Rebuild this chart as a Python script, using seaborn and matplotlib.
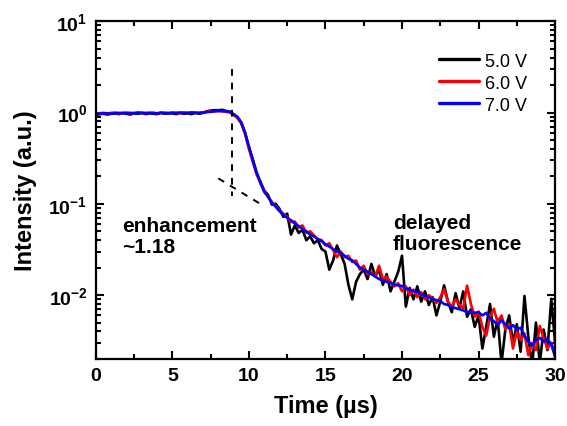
import numpy as np
import pandas as pd
import matplotlib
matplotlib.use("Agg")
import matplotlib.pyplot as plt
import seaborn as sns
from matplotlib.ticker import MultipleLocator, LogLocator, FuncFormatter

# ---- data ----
time_us = np.linspace(0, 30, 121)

series_labels = ["5.0 V", "6.0 V", "7.0 V"]
series_colors = ["#000000", "#ff0000", "#0000ff"]

intensity_5V = [
    0.94, 0.96, 0.97, 0.95,
    0.97, 0.98, 0.96, 0.99,
    0.97, 0.95, 0.98, 0.97,
    0.99, 0.96, 0.98, 0.97,
    0.96, 0.99, 0.97, 0.98,
    0.98, 0.96, 0.99, 0.97,
    0.98, 0.96, 0.99, 0.97,
    0.99, 1.03, 1.05, 1.06,
    1.06, 1.07, 1.04, 1.02,
    0.95, 0.88, 0.77, 0.60,
    0.42, 0.31, 0.22, 0.175,
    0.14, 0.125, 0.098, 0.100,
    0.088, 0.072, 0.078, 0.046,
    0.058, 0.048, 0.052, 0.040,
    0.044, 0.037, 0.040, 0.032,
    0.030, 0.019, 0.024, 0.035,
    0.028, 0.022, 0.013, 0.009,
    0.014, 0.017, 0.019, 0.015,
    0.022, 0.016, 0.019, 0.013,
    0.017, 0.011, 0.014, 0.018,
    0.027, 0.0075, 0.012, 0.0090,
    0.0125, 0.0085, 0.0110, 0.0078,
    0.0095, 0.0060, 0.0085, 0.0128,
    0.0085, 0.0065, 0.0105, 0.0072,
    0.0110, 0.0058, 0.0070, 0.0045,
    0.0060, 0.0026, 0.0045, 0.0080,
    0.0035, 0.0055, 0.0018, 0.0042,
    0.0060, 0.0030, 0.0048, 0.0024,
    0.0098, 0.0035, 0.0017, 0.0050,
    0.0018, 0.0042, 0.0025, 0.0091,
    0.0030,
]

intensity_6V = [
    0.97, 0.98, 0.99, 0.98,
    0.99, 1.00, 0.98, 0.99,
    1.00, 0.98, 0.99, 1.01,
    0.99, 0.98, 1.00, 0.99,
    0.98, 1.00, 0.99, 0.99,
    1.00, 0.99, 0.98, 1.00,
    0.99, 1.00, 1.00, 0.99,
    1.00, 1.02, 1.03, 1.03,
    1.04, 1.03, 1.02, 1.00,
    0.94, 0.87, 0.76, 0.58,
    0.40, 0.29, 0.21, 0.17,
    0.14, 0.118, 0.105, 0.095,
    0.085, 0.078, 0.072, 0.063,
    0.064, 0.055, 0.058, 0.048,
    0.050, 0.045, 0.041, 0.040,
    0.035, 0.037, 0.031, 0.026,
    0.030, 0.026, 0.027, 0.023,
    0.024, 0.019, 0.021, 0.017,
    0.018, 0.016, 0.021, 0.015,
    0.016, 0.014, 0.0125, 0.0135,
    0.0110, 0.0125, 0.0100, 0.0115,
    0.0095, 0.0108, 0.0090, 0.0100,
    0.0092, 0.0082, 0.0095, 0.0116,
    0.0085, 0.0075, 0.0090, 0.0078,
    0.0072, 0.0127, 0.0080, 0.0058,
    0.0066, 0.0045, 0.0036, 0.0058,
    0.0071, 0.0050, 0.0060, 0.0042,
    0.0048, 0.0026, 0.0040, 0.0032,
    0.0038, 0.0022, 0.0030, 0.0025,
    0.0046, 0.0034, 0.0026, 0.0030,
    0.0023,
]

intensity_7V = [
    0.96, 0.97, 0.98, 0.98,
    0.97, 0.98, 0.99, 0.98,
    0.98, 0.99, 0.98, 0.98,
    0.99, 0.99, 0.98, 0.99,
    0.98, 0.99, 0.99, 0.98,
    0.99, 0.99, 1.00, 0.99,
    0.99, 1.00, 0.99, 0.99,
    1.00, 1.01, 1.02, 1.03,
    1.04, 1.04, 1.03, 1.02,
    0.96, 0.90, 0.78, 0.60,
    0.42, 0.30, 0.22, 0.17,
    0.135, 0.120, 0.103, 0.093,
    0.083, 0.076, 0.070, 0.066,
    0.061, 0.057, 0.053, 0.050,
    0.046, 0.044, 0.041, 0.039,
    0.036, 0.034, 0.032, 0.030,
    0.029, 0.027, 0.025, 0.024,
    0.022, 0.020, 0.019, 0.018,
    0.0170, 0.0160, 0.0150, 0.0145,
    0.0140, 0.0136, 0.0130, 0.0128,
    0.0126, 0.0118, 0.0115, 0.0110,
    0.0108, 0.0102, 0.0098, 0.0094,
    0.0091, 0.0088, 0.0086, 0.0080,
    0.0078, 0.0074, 0.0072, 0.0070,
    0.0068, 0.0065, 0.0066, 0.0064,
    0.0065, 0.0060, 0.0064, 0.0055,
    0.0052, 0.0047, 0.0053, 0.0048,
    0.0043, 0.0047, 0.0042, 0.0044,
    0.0036, 0.0031, 0.0028, 0.0032,
    0.0034, 0.0031, 0.0033, 0.0029,
    0.0021,
]

vline_x = [8.9, 8.9]
vline_y = [3.0, 0.123]
slope_x = [8.0, 11.0]
slope_y = [0.19, 0.094]

# ---- styling ----
sns.set_theme(style="ticks")
plt.rcParams["font.family"] = ["Liberation Sans", "DejaVu Sans"]
plt.rcParams["mathtext.fontset"] = "custom"
plt.rcParams["mathtext.rm"] = "Liberation Sans:bold"
plt.rcParams["mathtext.bf"] = "Liberation Sans:bold"
plt.rcParams["mathtext.it"] = "Liberation Sans:bold"
plt.rcParams["mathtext.sf"] = "Liberation Sans:bold"
for key in ["text.color", "axes.labelcolor", "xtick.color", "ytick.color",
            "xtick.labelcolor", "ytick.labelcolor", "axes.edgecolor"]:
    plt.rcParams[key] = "black"

df = pd.DataFrame({
    "Time": np.concatenate([time_us] * 3),
    "Intensity": np.concatenate([intensity_5V, intensity_6V, intensity_7V]),
    "Voltage": np.repeat(series_labels, len(time_us)),
})

fig = plt.figure(figsize=(5.67, 4.27), dpi=100)
ax = fig.add_axes([0.169, 0.157, 0.81, 0.791])

sns.lineplot(data=df, x="Time", y="Intensity", hue="Voltage",
             palette=dict(zip(series_labels, series_colors)),
             estimator=None, sort=False, linewidth=1.9, ax=ax, legend=False)

ax.plot(vline_x, vline_y, color="black", linestyle=(0, (3.5, 3.5)), linewidth=1.4)
ax.plot(slope_x, slope_y, color="black", linestyle=(0, (3.5, 3.5)), linewidth=1.4)

ax.set_yscale("log")
ax.set_xlim(0, 30)
ax.set_ylim(0.002, 10)
ax.xaxis.set_major_locator(MultipleLocator(5))
ax.xaxis.set_minor_locator(MultipleLocator(2.5))
ax.yaxis.set_major_locator(LogLocator(base=10, numticks=10))
ax.yaxis.set_minor_locator(LogLocator(base=10, subs=np.arange(2, 10), numticks=20))
ax.yaxis.set_major_formatter(FuncFormatter(
    lambda v, p: r"$\mathbf{10^{%d}}$" % int(round(np.log10(v)))))

ax.tick_params(which="both", direction="in", top=True, right=True, width=1.5, color="black")
ax.tick_params(which="major", length=6, labelsize=14, pad=6)
ax.tick_params(which="minor", length=3.5)
for lbl in ax.get_xticklabels():
    lbl.set_fontweight("bold")
for sp in ax.spines.values():
    sp.set_linewidth(1.6)
    sp.set_color("black")

ax.set_xlabel("Time (µs)", fontsize=17, fontweight="bold", labelpad=7)
ax.set_ylabel("Intensity (a.u.)", fontsize=17, fontweight="bold", labelpad=8)

handles = [plt.Line2D([], [], color=c, linewidth=2.4) for c in series_colors]
ax.legend(handles, series_labels, loc="upper right", frameon=False, fontsize=13,
          handlelength=2.2, handletextpad=0.35, labelspacing=0.28,
          bbox_to_anchor=(0.975, 0.955))

ax.text(1.75, 0.073, "enhancement\n~1.18", fontsize=15, fontweight="bold",
        va="top", ha="left", linespacing=1.1)
ax.text(19.4, 0.079, "delayed\nfluorescence", fontsize=15, fontweight="bold",
        va="top", ha="left", linespacing=1.1)

fig.savefig("out.png", dpi=100)
